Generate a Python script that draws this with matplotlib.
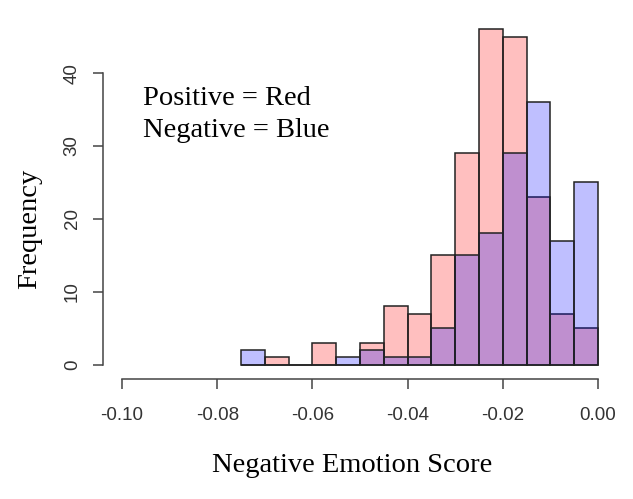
import numpy as np
import matplotlib
matplotlib.use("Agg")
import matplotlib.pyplot as plt

# Bins of width 0.005 from -0.075 to 0
bin_left = [-0.075, -0.070, -0.065, -0.060, -0.055, -0.050, -0.045, -0.040,
            -0.035, -0.030, -0.025, -0.020, -0.015, -0.010, -0.005]
bin_width = 0.005
positive_counts = [0, 1, 0, 3, 0, 3, 8, 7, 15, 29, 46, 45, 23, 7, 5]
negative_counts = [2, 0, 0, 0, 1, 2, 1, 1, 5, 15, 18, 29, 36, 17, 25]

x_ticks = [-0.10, -0.08, -0.06, -0.04, -0.02, 0.00]
x_tick_labels = ["-0.10", "-0.08", "-0.06", "-0.04", "-0.02", "0.00"]
y_ticks = [0, 10, 20, 30, 40]

W, H = 633, 499
fig = plt.figure(figsize=(W / 100, H / 100), dpi=100)
# plot region in pixels: left 103, right 617, top 16, bottom 378
ax = fig.add_axes([103 / W, 1 - 378 / H, (617 - 103) / W, (378 - 16) / H])

ax.bar(bin_left, positive_counts, width=bin_width, align="edge",
       color=(1, 0, 0, 0.25), edgecolor="#222222", linewidth=1.1)
ax.bar(bin_left, negative_counts, width=bin_width, align="edge",
       color=(0, 0, 1, 0.25), edgecolor="#222222", linewidth=1.1)

ax.set_xlim(-0.104, 0.004)
ax.set_ylim(-1.84, 47.84)

for s in ["top", "right"]:
    ax.spines[s].set_visible(False)
ax.spines["bottom"].set_bounds(-0.10, 0.0)
ax.spines["left"].set_bounds(0, 40)
for s in ["bottom", "left"]:
    ax.spines[s].set_color("#444444")
    ax.spines[s].set_linewidth(1.1)
ax.spines["bottom"].set_position(("outward", 1))

ax.set_xticks(x_ticks)
ax.set_xticklabels(x_tick_labels, fontfamily="Liberation Sans", fontsize=13.5, color="#333333")
ax.set_yticks(y_ticks)
ax.set_yticklabels([str(v) for v in y_ticks], fontfamily="Liberation Sans", fontsize=13.5,
                   color="#333333", rotation=90, va="center")
ax.tick_params(axis="both", direction="out", length=7, width=1.1, color="#444444")
ax.tick_params(axis="x", pad=13)
ax.tick_params(axis="y", pad=9)

serif = "Liberation Serif"
fig.text(352 / W, 1 - 465 / H, "Negative Emotion Score", fontfamily=serif,
         fontsize=20.5, ha="center", va="center")
fig.text(30 / W, 1 - 229 / H, "Frequency", fontfamily=serif, fontsize=20.5,
         rotation=90, ha="center", va="center")
fig.text(143 / W, 1 - 105 / H, "Positive = Red", fontfamily=serif, fontsize=20.5,
         ha="left", va="baseline")
fig.text(143 / W, 1 - 137 / H, "Negative = Blue", fontfamily=serif, fontsize=20.5,
         ha="left", va="baseline")

fig.savefig("out.png", dpi=100)
